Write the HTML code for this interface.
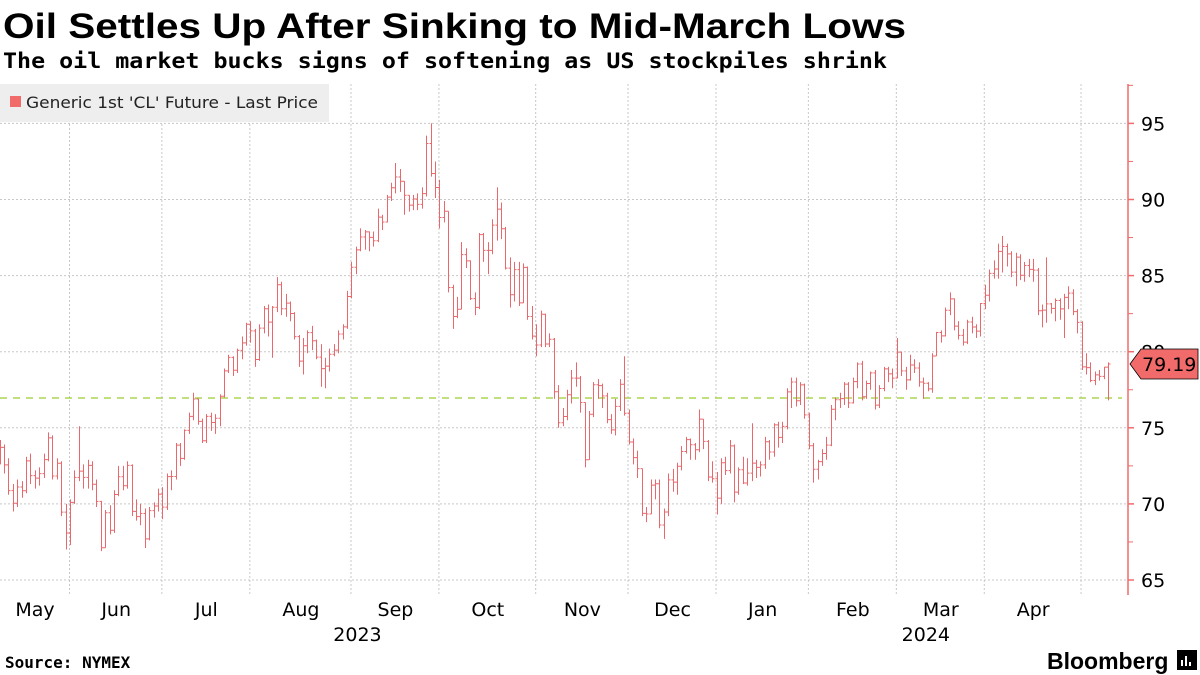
<!DOCTYPE html>
<html><head><meta charset="utf-8">
<style>
html,body{margin:0;padding:0;background:#fff;}
svg{display:block;font-family:"DejaVu Sans","Liberation Sans",sans-serif;}
</style></head>
<body>
<svg id="chart" width="1200" height="675" viewBox="0 0 1200 675">
<text x="3" y="38" font-family="Liberation Sans, sans-serif" font-weight="bold" font-size="35" fill="#000" textLength="903" lengthAdjust="spacingAndGlyphs">Oil Settles Up After Sinking to Mid-March Lows</text>
<text x="3" y="68" font-family="DejaVu Sans Mono, Liberation Mono, monospace" font-weight="bold" font-size="21" fill="#000" textLength="884" lengthAdjust="spacingAndGlyphs">The oil market bucks signs of softening as US stockpiles shrink</text>
<g id="grid"></g>
<line x1="0" x2="1122" y1="398" y2="398" stroke="#9acd32" stroke-width="1.2" stroke-dasharray="7,6"/>
<g id="bars"></g>
<g id="axis"></g>
<g id="xaxis"></g>
<g>
<rect x="0" y="84" width="329" height="38" fill="#eeeeee"/>
<rect x="10" y="96" width="11" height="11" fill="#f26b6b"/>
<text x="26" y="108" font-size="16" fill="#222" textLength="292" lengthAdjust="spacingAndGlyphs">Generic 1st 'CL' Future - Last Price</text>
</g>
<text x="5" y="668" font-family="DejaVu Sans Mono, monospace" font-weight="bold" font-size="16" fill="#000">Source: NYMEX</text>
<text x="1047" y="669" font-family="Liberation Sans, sans-serif" font-weight="bold" font-size="23" fill="#000">Bloomberg</text>
<rect x="1177" y="650" width="20" height="20" fill="#000"/>
<path d="M1182 666V660M1186 666V656M1190 666V662" stroke="#fff" stroke-width="2"/>
</svg>
<script>
const closes=[73.71,72.56,70.87,70.04,71.11,70.86,72.83,71.86,71.69,71.99,72.91,74.34,71.83,72.67,69.46,68.09,
70.10,71.74,72.15,71.74,72.53,71.29,70.17,67.12,69.42,68.27,70.62,71.78,71.19,72.53,69.51,69.16,69.37,67.70,69.56,69.86,70.64,
69.79,71.79,71.80,73.86,72.99,74.83,75.75,76.89,75.42,74.15,75.75,75.35,75.63,77.07,78.74,79.63,78.78,80.09,80.58,81.80,
81.37,79.49,81.55,82.82,81.94,82.92,84.40,82.82,83.19,82.51,80.99,79.38,80.39,81.25,80.72,79.64,78.89,79.05,79.83,80.10,81.16,81.63,83.63,
85.55,86.69,87.54,87.87,87.51,87.29,88.84,88.52,90.16,90.77,91.48,91.20,90.28,89.63,90.03,89.68,90.39,93.68,91.71,90.79,
88.82,89.23,84.22,82.31,82.79,86.38,85.97,83.49,82.91,87.69,86.66,86.66,88.32,89.37,88.08,85.49,83.74,85.39,83.21,85.54,82.31,81.02,
80.44,82.46,80.51,80.82,77.37,75.33,75.74,77.17,78.26,78.26,76.66,72.90,75.89,77.83,77.77,77.10,75.54,74.86,76.41,77.86,75.96,
74.07,73.04,72.32,69.38,69.34,71.23,71.32,68.61,69.47,71.58,71.43,72.47,73.44,74.22,73.89,73.56,75.57,74.11,71.77,71.65,
70.38,72.70,72.19,73.81,70.77,72.24,71.37,72.02,72.68,72.40,72.56,74.08,73.41,75.19,74.37,75.09,77.36,78.01,76.78,77.82,75.85,
73.82,72.28,72.78,73.31,73.86,76.22,76.84,76.92,77.87,76.64,78.03,79.19,77.04,77.91,78.61,76.49,77.58,78.87,78.54,78.26,
79.97,78.74,78.15,79.13,78.93,78.01,77.93,77.56,79.72,81.26,81.04,82.72,83.47,81.68,81.07,80.63,81.95,81.62,81.35,83.17,
83.71,85.15,85.43,86.59,86.91,86.43,85.23,86.21,85.02,85.66,85.41,85.36,82.69,82.73,83.14,82.85,83.36,82.81,83.57,83.85,82.63,81.93,
79.00,78.95,78.11,78.48,78.38,78.99,79.19];
const highs=[74.2,73.9,73.0,71.3,71.6,71.5,73.1,73.3,72.2,72.4,73.3,74.7,74.5,73.0,72.8,70.0,
70.3,72.2,75.1,72.6,72.9,72.8,71.6,70.2,69.6,69.9,70.9,72.5,72.5,72.8,72.6,70.3,70.0,69.7,69.8,70.1,71.0,
71.1,72.0,72.2,74.0,74.0,74.9,76.0,77.3,76.9,75.6,75.9,76.0,75.9,77.2,78.9,79.8,79.7,80.2,81.0,81.9,
82.0,81.5,81.8,83.0,83.1,83.0,84.9,84.6,83.8,83.3,82.6,81.1,80.9,81.4,81.7,80.8,80.5,79.6,80.2,80.5,81.4,81.8,84.0,
85.9,86.9,88.1,88.0,87.9,87.9,89.4,89.0,90.3,91.1,92.4,92.0,91.0,90.1,90.3,90.4,90.8,94.2,95.0,92.5,
91.3,89.9,89.2,84.4,83.6,87.2,86.8,86.0,83.9,87.8,87.8,87.2,88.7,90.8,89.8,88.2,86.2,85.9,85.9,85.8,85.6,83.0,
81.8,82.7,82.5,81.2,80.9,77.8,76.3,77.5,78.8,79.3,78.4,76.6,76.1,78.0,78.2,77.9,77.3,75.9,76.9,78.2,79.7,
76.2,74.3,73.5,72.3,69.8,71.6,71.6,71.6,69.7,72.0,72.3,72.7,73.8,74.4,74.3,74.0,76.2,75.5,74.2,72.8,
72.1,73.0,73.1,74.2,73.9,72.4,73.1,73.0,75.3,72.9,72.8,74.4,74.2,75.3,75.4,75.4,77.6,78.3,78.3,78.0,77.9,
76.0,74.0,72.9,73.6,74.4,76.5,77.0,77.3,78.0,78.0,78.3,79.3,79.4,78.1,78.7,78.8,77.8,79.0,79.0,78.9,
80.9,80.0,79.0,79.8,79.5,79.3,78.3,78.0,79.9,81.3,81.4,82.9,83.9,83.5,82.0,81.5,82.1,82.3,81.8,83.2,
84.4,85.4,86.0,87.1,87.6,87.1,86.6,86.5,86.4,85.9,86.1,86.1,85.5,83.1,86.2,83.2,83.5,83.5,83.8,84.3,84.1,82.8,
82.0,79.9,79.3,78.7,78.8,79.0,79.3];
const lows=[72.6,72.0,70.6,69.5,69.8,70.4,70.7,71.3,71.0,71.2,71.7,72.8,71.6,71.6,69.2,67.0,
67.3,70.0,71.5,71.0,71.0,70.9,69.8,66.9,67.3,68.0,68.1,70.5,70.9,71.0,69.2,68.9,68.6,67.1,67.6,69.1,69.5,
69.0,69.6,70.9,71.6,72.5,72.9,74.6,75.5,75.2,74.0,74.0,74.8,74.6,75.1,77.0,78.6,78.4,78.6,79.5,80.4,
80.6,79.0,79.4,81.2,81.0,79.6,82.6,82.4,82.3,82.0,80.8,79.0,78.5,79.9,80.1,79.5,77.7,77.6,78.7,79.7,79.9,80.8,81.5,
83.5,85.1,86.6,86.7,86.6,86.9,87.2,88.0,88.5,89.9,90.4,90.5,89.0,89.2,89.3,89.3,89.4,90.2,91.5,90.1,
88.1,88.5,83.9,81.5,82.2,84.1,85.5,83.4,82.4,82.8,85.9,85.1,86.4,87.3,87.4,85.4,82.9,83.3,83.0,83.2,82.1,80.8,
79.7,80.3,80.3,80.3,76.9,75.0,75.1,75.5,76.6,77.7,76.0,72.4,73.0,75.7,76.9,76.3,75.3,74.6,74.5,76.1,75.8,
73.9,72.6,71.7,69.2,68.8,69.6,70.3,68.4,67.7,69.2,70.8,70.6,72.2,73.3,72.9,72.9,73.4,73.6,71.5,71.4,
69.3,70.0,71.9,72.0,70.1,70.6,71.3,71.2,71.5,71.7,71.8,72.3,72.9,73.1,73.7,74.0,74.9,76.3,76.4,76.5,75.6,
73.6,71.4,71.6,72.5,72.9,73.8,75.5,76.3,76.5,76.3,76.6,77.6,76.8,76.9,77.5,76.2,76.3,77.4,78.0,77.6,
78.3,78.4,77.5,78.1,78.6,77.7,76.9,77.4,77.3,79.9,80.6,81.0,82.4,81.4,80.8,80.4,80.5,81.2,80.9,81.0,
82.8,83.3,84.8,84.8,85.2,85.6,84.9,84.3,84.7,84.6,84.9,84.6,82.4,81.6,81.9,82.5,82.0,82.1,80.9,82.8,82.4,81.2,
78.8,78.5,78.0,77.8,78.1,78.2,76.8];
const firstOpen=73.2;
const yTicks=[65,70,75,80,85,90,95];
const monthLabels=["May","Jun","Jul","Aug","Sep","Oct","Nov","Dec","Jan","Feb","Mar","Apr"];
const monthStartIdx=[-16,0,21,41,64,84,106,127,147,168,188,208];
const yearLabels=["2023","2024"];
const yearIdx=[64,188];
const lastValue=79.19;

const NS="http://www.w3.org/2000/svg";
const X0=70, STEP=4.398;
const xs=i=>X0+(i-16)*STEP;
const ys=v=>580-(v-65)*15.22;
function mk(tag,attrs,parent){const e=document.createElementNS(NS,tag);for(const k in attrs)e.setAttribute(k,attrs[k]);parent.appendChild(e);return e;}
const grid=document.getElementById('grid'),bars=document.getElementById('bars'),axis=document.getElementById('axis'),xaxis=document.getElementById('xaxis');
yTicks.forEach(t=>{
  const l=mk('line',{x1:0,x2:1128,y1:ys(t),y2:ys(t),stroke:'#c8c8c8','stroke-dasharray':'2,2'},grid);
  
  
  const tk=mk('line',{x1:1128,x2:1134,y1:ys(t),y2:ys(t),stroke:'#f26b6b','stroke-width':1.5},axis);
  
  
  const mt=mk('line',{x1:1128,x2:1133,y1:ys(t+2.5),y2:ys(t+2.5),stroke:'#f26b6b'},axis);
  
  
  const tx=mk('text',{x:1141,y:ys(t)+7,'font-size':19,fill:'#000'},axis);
  tx.textContent=t;
  
  
});
const ax=mk('line',{x1:1128,x2:1128,y1:84,y2:595,stroke:'#f26b6b','stroke-width':1.5},axis);


monthLabels.forEach((m,k)=>{
  const s=monthStartIdx[k]+16;
  const e=(k+1<monthStartIdx.length?monthStartIdx[k+1]:230)+16;
  if(k>0){
    const g=mk('line',{x1:xs(s)-0.5,x2:xs(s)-0.5,y1:84,y2:595,stroke:'#c8c8c8','stroke-dasharray':'2,2'},grid);
    
    
  }
  const cx=k===0?35:(xs(s)+xs(e))/2;
  const t=mk('text',{x:cx,y:616,'font-size':19,fill:'#000','text-anchor':'middle'},xaxis);
  t.textContent=m;
  
  
});
const g2=mk('line',{x1:xs(230+16)-0.5,x2:xs(230+16)-0.5,y1:84,y2:595,stroke:'#c8c8c8','stroke-dasharray':'2,2'},grid);


const yearOffsets=[6,29];
yearLabels.forEach((y,k)=>{
  const t=mk('text',{x:xs(yearIdx[k]+16)+yearOffsets[k],y:641,'font-size':19,fill:'#000','text-anchor':'middle'},xaxis);
  t.textContent=y;
  
  
});
closes.forEach((c,i)=>{
  const o=i===0?firstOpen:closes[i-1];
  const h=Math.max(highs[i],o,c),l=Math.min(lows[i],o,c);
  const x=Math.round(xs(i))+0.5;
  const p=mk('path',{d:`M${x} ${ys(h)}V${ys(l)}M${x-2} ${ys(o)}H${x}M${x} ${ys(c)}H${x+2}`,stroke:'#e8686b','stroke-width':1,fill:'none'},bars);
  
  
});
const yl=ys(lastValue);
const tag=mk('path',{d:`M1130 ${yl} L1141 ${yl-15} H1198 V${yl+15} H1141 Z`,fill:'#f26b6b',stroke:'#000','stroke-width':0.8},axis);


const tt=mk('text',{x:1142,y:yl+7,'font-size':19,fill:'#000'},axis);
tt.textContent=lastValue.toFixed(2);


</script>
</body></html>
